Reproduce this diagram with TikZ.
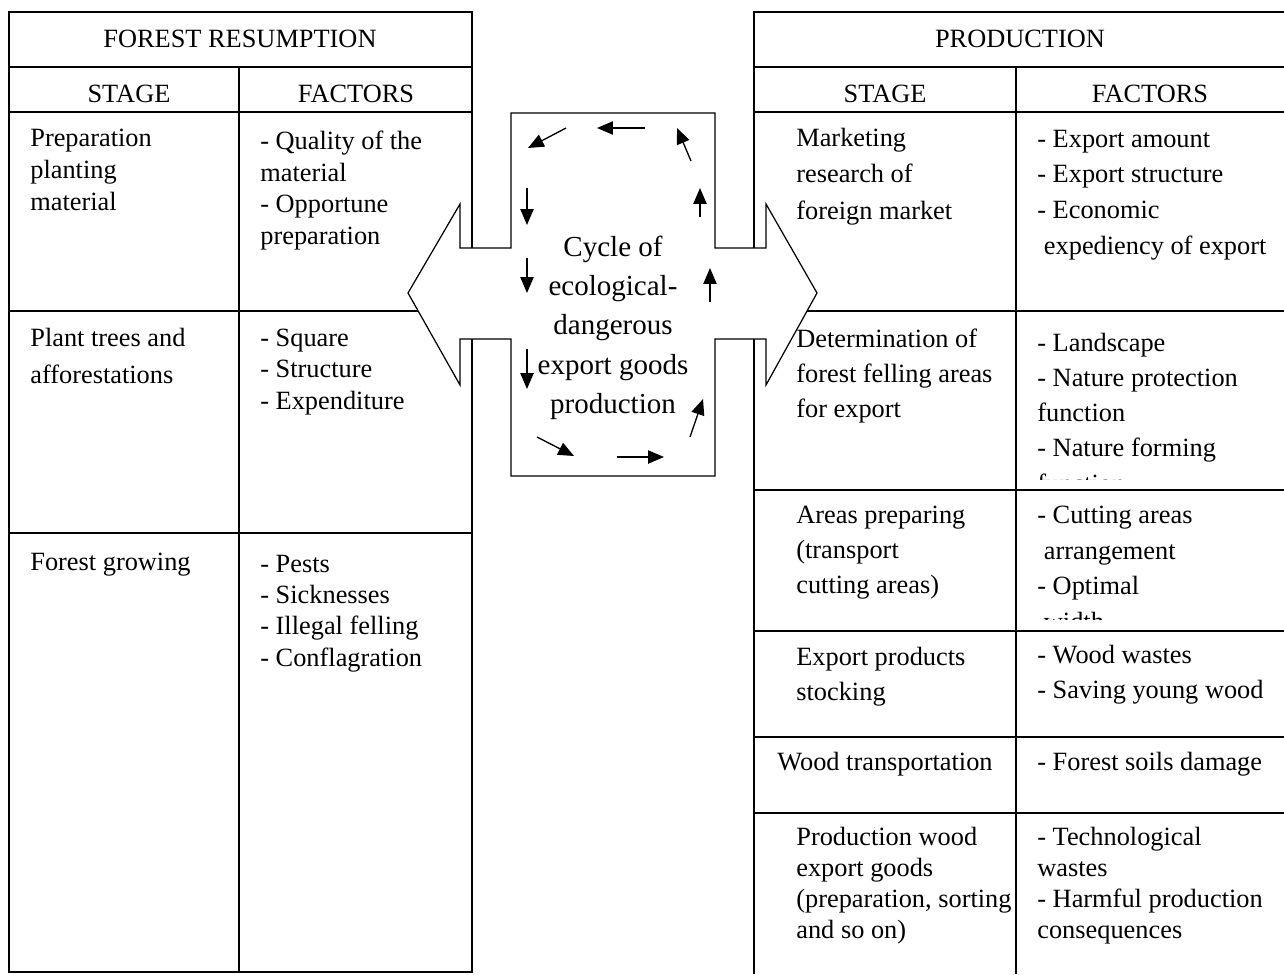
\documentclass[tikz,border=0pt]{standalone}
\usepackage{fontspec}
\setmainfont{Liberation Serif}
\usetikzlibrary{arrows.meta}

\tikzset{
  rule/.style={line width=1pt},
  title/.style={anchor=base, inner sep=0pt, font=\fontsize{15}{18}\selectfont},
  txt/.style={anchor=base west, align=left, inner sep=0pt, font=\fontsize{15}{#1}\selectfont},
  txt/.default=18,
  cyc/.style={line width=0.75pt, -{Triangle[length=9pt,width=7.5pt]}},
}

\begin{document}
\begin{tikzpicture}[x=0.02cm, y=-0.02cm]
    \useasboundingbox (0,0) rectangle (1284,974);

    % forest resumption table
    \draw[rule] (9,12) rectangle (472,972);
    \foreach \y in {67,112,311,533}
        \draw[rule] (9,\y) -- (472,\y);
    \draw[rule] (239,67) -- (239,972);

    % production table
    \draw[rule] (1284,12) -- (754,12) -- (754,974);
    \foreach \y in {67,112,311,490,631,737,813}
        \draw[rule] (754,\y) -- (1284,\y);
    \draw[rule] (1016,67) -- (1016,974);

    % double arrow with the cycle box
    \draw[line width=0.7pt, fill=white] (511,113) -- (715,113) -- (715,248) -- (766,248) -- (766,204)
        -- (817,293) -- (766,385) -- (766,339) -- (715,339) -- (715,476) -- (511,476) -- (511,339)
        -- (460,339) -- (460,385) -- (408,293) -- (460,204) -- (460,248) -- (511,248) -- cycle;

    \foreach \xa/\ya/\xb/\yb in {566/128/528/148, 645/128/597/128, 691/161/677/128,
        527/188/527/225, 527/258/527/293, 527/349/527/389,
        700/217/700/188, 710/302/710/268, 690/437/703/399,
        537/437/574/456, 617/457/664/457}
        \draw[cyc] (\xa,\ya) -- (\xb,\yb);

    % multi-line nodes sit on the baseline of their last line
    \node[anchor=base, align=center, inner sep=0pt, font=\fontsize{16.5}{22.2}\selectfont] (cycle) at (613,413)
        {Cycle of\\ecological-\\dangerous\\export goods\\production};

    % left texts
    \node[title] (lhead) at (240,47) {FOREST RESUMPTION};
    \node[title] (lstage) at (129,102) {STAGE};
    \node[title] (lfact) at (356,102) {FACTORS};
    \node[txt=18] (ls1) at (30,210) {Preparation\\planting\\material};
    \node[txt=17.9] (lf1) at (260,244) {- Quality of the\\material\\- Opportune\\preparation};
    \node[txt=20.5] (ls2) at (30,383) {Plant trees and\\afforestations};
    \node[txt=17.9] (lf2) at (260,409) {- Square\\- Structure\\- Expenditure};
    \node[txt] (ls3) at (30,570) {Forest growing};
    \node[txt=17.8] (lf3) at (260,666) {- Pests\\- Sicknesses\\- Illegal felling\\- Conflagration};

    % right texts
    \node[title] (rhead) at (1020,47) {PRODUCTION};
    \node[title] (rstage) at (885,102) {STAGE};
    \node[title] (rfact) at (1150,102) {FACTORS};
    \node[txt=20.5] (rs1) at (796,219) {Marketing\\research of\\foreign market};
    \node[txt=20.3] (rf1) at (1037,254) {- Export amount\\- Export structure\\- Economic\\\hspace*{0.25em}expediency of export};
    \node[txt=19.9] (rs2) at (796,417) {Determination of\\forest felling areas\\for export};
    \begin{scope}
        \clip (1016,311) rectangle (1284,479);
        \node[txt=20] (rf2) at (1037,492) {- Landscape\\- Nature protection\\function\\- Nature forming\\function};
    \end{scope}
    \node[txt=19.9] (rs3) at (796,593) {Areas preparing\\(transport\\cutting areas)};
    \begin{scope}
        \clip (1016,490) rectangle (1284,619);
        \node[txt=20.2] (rf3) at (1037,630) {- Cutting areas\\\hspace*{0.25em}arrangement\\- Optimal\\\hspace*{0.25em}width};
    \end{scope}
    \node[txt=19.9] (rs4) at (796,700) {Export products\\stocking};
    \node[txt=19.9] (rf4) at (1037,698) {- Wood wastes\\- Saving young wood};
    \node[txt] (rs5) at (777,770) {Wood transportation};
    \node[txt] (rf5) at (1037,770) {- Forest soils damage};
    \node[txt=17.6] (rs6) at (796,938) {Production wood\\export goods\\(preparation, sorting\\and so on)};
    \node[txt=17.6] (rf6) at (1037,938) {- Technological\\wastes\\- Harmful production\\consequences};
\end{tikzpicture}
\end{document}
